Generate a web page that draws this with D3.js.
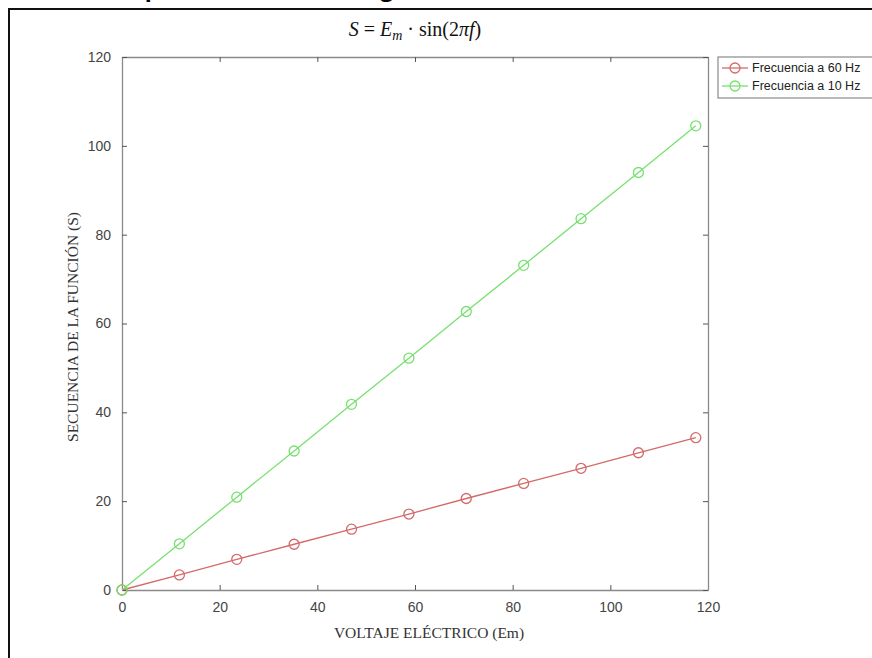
<!DOCTYPE html>
<html>
<head>
<meta charset="utf-8">
<script src="https://cdn.jsdelivr.net/npm/d3@7"></script>
<style>
  html, body { margin: 0; padding: 0; background: #fff; }
  svg { display: block; }
</style>
</head>
<body>
<script>
// Voltage samples (Em) and the resulting function values for each frequency
const voltaje = [0, 11.75, 23.5, 35.25, 47, 58.75, 70.5, 82.25, 94, 105.75, 117.5];
const serie60 = [0, 3.4, 6.9, 10.3, 13.7, 17.1, 20.6, 24.0, 27.4, 30.9, 34.3];
const serie10 = [0, 10.4, 20.9, 31.3, 41.8, 52.2, 62.7, 73.1, 83.6, 94.0, 104.5];
const xTicks = [0, 20, 40, 60, 80, 100, 120];
const yTicks = [0, 20, 40, 60, 80, 100, 120];
const leyenda = ["Frecuencia a 60 Hz", "Frecuencia a 10 Hz"];
const leyendaPagina = "Comparación de la señal generada";

const W = 872, H = 658;
const margin = { left: 122, right: 164, top: 57, bottom: 68 };
const colors = ["#d46a6a", "#78e070"];

const svg = d3.select("body").append("svg").attr("width", W).attr("height", H);

// Caption line of the page above the figure (only its descenders show)
const cap = svg.append("text")
  .attr("y", -4)
  .attr("font-family", "Open Sans, sans-serif")
  .attr("font-weight", "bold")
  .attr("font-size", 22)
  .attr("fill", "#000")
  .text(leyendaPagina);

// Outer frame
svg.append("path")
  .attr("d", `M9,${H + 2} L9,9 L${W + 2},9`)
  .attr("fill", "none").attr("stroke", "#111").attr("stroke-width", 2);

const x = d3.scaleLinear().domain([0, 120]).range([margin.left, W - margin.right]);
const y = d3.scaleLinear().domain([0, 120]).range([H - margin.bottom, margin.top]);

const axisColor = "#8a8a8a";
const tickFont = "Liberation Sans, Arial, sans-serif";

// Axes with inward ticks on all sides
const gB = svg.append("g").attr("transform", `translate(0,${y(0)})`)
  .call(d3.axisBottom(x).tickValues(xTicks).tickSizeInner(-5).tickSizeOuter(0).tickPadding(12));
const gT = svg.append("g").attr("transform", `translate(0,${y(120)})`)
  .call(d3.axisTop(x).tickValues(xTicks).tickSizeInner(-5).tickSizeOuter(0).tickFormat(""));
const gL = svg.append("g").attr("transform", `translate(${x(0)},0)`)
  .call(d3.axisLeft(y).tickValues(yTicks).tickSizeInner(-5).tickSizeOuter(0).tickPadding(11));
const gR = svg.append("g").attr("transform", `translate(${x(120)},0)`)
  .call(d3.axisRight(y).tickValues(yTicks).tickSizeInner(-5).tickSizeOuter(0).tickFormat(""));

[gB, gT, gL, gR].forEach(g => {
  g.selectAll(".domain").attr("stroke", axisColor).attr("stroke-width", 1.3);
  g.selectAll(".tick line").attr("stroke", "#555").attr("stroke-width", 1);
  g.selectAll(".tick text").attr("fill", "#444").attr("font-family", tickFont).attr("font-size", 14);
});
gB.selectAll(".tick text").attr("dy", "0.71em");

// Series
const series = [
  { values: serie60, color: colors[0] },
  { values: serie10, color: colors[1] }
];
const line = d3.line().x((d, i) => x(voltaje[i])).y(d => y(d));

series.forEach(s => {
  svg.append("path").datum(s.values)
    .attr("d", line).attr("fill", "none")
    .attr("stroke", s.color).attr("stroke-width", 1.3);
  svg.append("g").selectAll("circle").data(s.values).join("circle")
    .attr("cx", (d, i) => x(voltaje[i])).attr("cy", d => y(d)).attr("r", 5)
    .attr("fill", "none").attr("stroke", s.color).attr("stroke-width", 1.3);
});

// Title
const title = svg.append("text")
  .attr("x", 415).attr("y", 36).attr("text-anchor", "middle")
  .attr("font-family", "Liberation Serif, DejaVu Serif, serif")
  .attr("font-size", 20).attr("fill", "#111");
title.append("tspan").attr("font-style", "italic").text("S");
title.append("tspan").text(" = ");
title.append("tspan").attr("font-style", "italic").text("E");
title.append("tspan").attr("font-style", "italic").attr("font-size", 14).attr("dy", 4).text("m");
title.append("tspan").attr("dy", -4).text(" · sin(2");
title.append("tspan").attr("font-style", "italic").text("πf");
title.append("tspan").text(")");

// Axis labels
svg.append("text")
  .attr("x", 429).attr("y", 638).attr("text-anchor", "middle")
  .attr("font-family", "Liberation Serif, serif").attr("font-size", 15.5).attr("fill", "#333")
  .text("VOLTAJE ELÉCTRICO (Em)");
svg.append("text")
  .attr("transform", `translate(78,327) rotate(-90)`)
  .attr("text-anchor", "middle")
  .attr("font-family", "Liberation Serif, serif").attr("font-size", 15.5).attr("fill", "#333")
  .text("SECUENCIA DE LA FUNCIÓN (S)");

// Legend
const lg = svg.append("g").attr("transform", "translate(718,57)");
lg.append("rect").attr("x", 0).attr("y", 0).attr("width", 170).attr("height", 41)
  .attr("fill", "#fff").attr("stroke", axisColor).attr("stroke-width", 1.2);
leyenda.forEach((name, i) => {
  const yy = 11 + i * 18;
  lg.append("line").attr("x1", 4).attr("x2", 30).attr("y1", yy).attr("y2", yy)
    .attr("stroke", colors[i]).attr("stroke-width", 1.3);
  lg.append("circle").attr("cx", 17).attr("cy", yy).attr("r", 5)
    .attr("fill", "none").attr("stroke", colors[i]).attr("stroke-width", 1.3);
  lg.append("text").attr("x", 34).attr("y", yy).attr("dy", "0.35em")
    .attr("font-family", tickFont).attr("font-size", 12.5).attr("fill", "#222").text(name);
});

// Size and place the caption so its 'p' and 'g' descenders fall at x≈152 and x≈387
function charCenter(node, i) {
  return node.getStartPositionOfChar(i).x + node.getSubStringLength(i, 1) / 2;
}
const capNode = cap.node();
const pIdx = leyendaPagina.indexOf("p");
const gIdx = leyendaPagina.indexOf("g");
const span = charCenter(capNode, gIdx) - charCenter(capNode, pIdx);
cap.attr("font-size", 22 * 235 / span);
cap.attr("x", 0);
const shift = 152 - charCenter(capNode, pIdx);
cap.attr("x", shift);
</script>
</body>
</html>
